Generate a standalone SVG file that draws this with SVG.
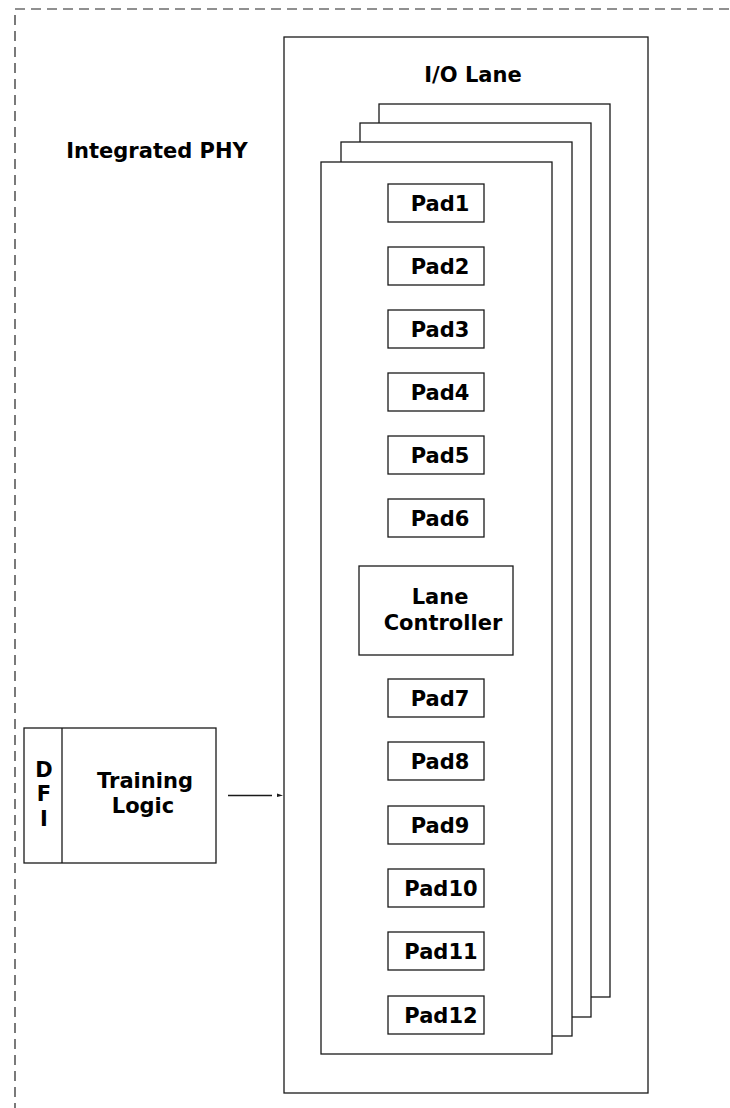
<svg xmlns="http://www.w3.org/2000/svg" width="730" height="1108" viewBox="0 0 730 1108">
<style>
.box{fill:#fff;stroke:#1a1a1a;stroke-width:1.3}
.t{font-family:"DejaVu Sans","Liberation Sans",sans-serif;font-weight:bold;font-size:21px;fill:#000;text-anchor:middle}
</style>
<rect width="730" height="1108" fill="#fff"/>
<g id="integrated-phy">
<rect x="15" y="9" width="800" height="1200" fill="none" stroke="#222" stroke-width="1.2" stroke-dasharray="10,6"/>
<text class="t" x="157" y="158">Integrated PHY</text>
</g>
<g id="io-lane">
<rect class="box" x="284" y="37" width="364" height="1056"/>
<text class="t" x="473" y="82">I/O Lane</text>
<rect class="box" x="379" y="104" width="231" height="893"/>
<rect class="box" x="360" y="123" width="231" height="894"/>
<rect class="box" x="341" y="142" width="231" height="894"/>
<rect class="box" x="321" y="162" width="231" height="892"/>
</g>
<g id="pad1"><rect class="box" x="388" y="184" width="96" height="38"/><text class="t" x="440" y="211">Pad1</text></g>
<g id="pad2"><rect class="box" x="388" y="247" width="96" height="38"/><text class="t" x="440" y="274">Pad2</text></g>
<g id="pad3"><rect class="box" x="388" y="310" width="96" height="38"/><text class="t" x="440" y="337">Pad3</text></g>
<g id="pad4"><rect class="box" x="388" y="373" width="96" height="38"/><text class="t" x="440" y="400">Pad4</text></g>
<g id="pad5"><rect class="box" x="388" y="436" width="96" height="38"/><text class="t" x="440" y="463">Pad5</text></g>
<g id="pad6"><rect class="box" x="388" y="499" width="96" height="38"/><text class="t" x="440" y="526">Pad6</text></g>
<g id="lane-controller"><rect class="box" x="359" y="566" width="154" height="89"/><text class="t" x="440" y="604">Lane</text><text class="t" x="443" y="630">Controller</text></g>
<g id="pad7"><rect class="box" x="388" y="679" width="96" height="38"/><text class="t" x="440" y="706">Pad7</text></g>
<g id="pad8"><rect class="box" x="388" y="742" width="96" height="38"/><text class="t" x="440" y="769">Pad8</text></g>
<g id="pad9"><rect class="box" x="388" y="806" width="96" height="38"/><text class="t" x="440" y="833">Pad9</text></g>
<g id="pad10"><rect class="box" x="388" y="869" width="96" height="38"/><text class="t" x="441" y="896">Pad10</text></g>
<g id="pad11"><rect class="box" x="388" y="932" width="96" height="38"/><text class="t" x="441" y="959">Pad11</text></g>
<g id="pad12"><rect class="box" x="388" y="996" width="96" height="38"/><text class="t" x="441" y="1023">Pad12</text></g>
<g id="training-logic">
<rect class="box" x="24" y="728" width="192" height="135"/>
<line x1="62" y1="728" x2="62" y2="863" stroke="#1a1a1a" stroke-width="1.3"/>
<text class="t" x="44" y="777">D</text>
<text class="t" x="44" y="801">F</text>
<text class="t" x="44" y="826">I</text>
<text class="t" x="145" y="788">Training</text>
<text class="t" x="143" y="813">Logic</text>
</g>
<g id="connectors">
<line x1="228" y1="795.5" x2="272" y2="795.5" stroke="#1a1a1a" stroke-width="1.3"/>
<polygon points="277,793.5 283,795.5 277,797" fill="#1a1a1a"/>
</g>
</svg>
